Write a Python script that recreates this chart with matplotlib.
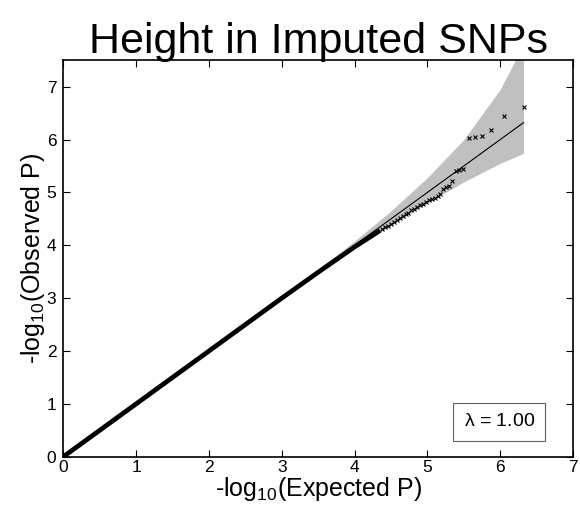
import numpy as np
import matplotlib
matplotlib.use("Agg")
import matplotlib.pyplot as plt

plt.rcParams['font.family'] = ['Liberation Sans', 'DejaVu Sans']
plt.rcParams['mathtext.fontset'] = 'custom'
plt.rcParams['mathtext.rm'] = 'Liberation Sans'
plt.rcParams['mathtext.default'] = 'regular'

# bulk of the QQ points (expected, observed)
bulk_exp = [0.0, 0.5, 1.0, 1.5, 2.0, 2.5, 3.0, 3.5, 4.0, 4.35]
bulk_obs = [0.0, 0.5, 1.0, 1.5, 2.0, 2.5, 3.0, 3.49, 3.97, 4.28]

# tail points plotted as crosses
tail_exp = [4.38, 4.42, 4.46, 4.5, 4.54, 4.58, 4.62, 4.66, 4.7, 4.74, 4.78, 4.82,
            4.86, 4.9, 4.94, 4.98, 5.02, 5.06, 5.1, 5.14, 5.17, 5.22, 5.26, 5.30,
            5.34, 5.39, 5.44, 5.49, 5.57, 5.65, 5.75, 5.87, 6.05, 6.32]
tail_obs = [4.30, 4.34, 4.37, 4.41, 4.44, 4.48, 4.51, 4.55, 4.59, 4.62, 4.66, 4.69,
            4.73, 4.76, 4.79, 4.82, 4.85, 4.87, 4.90, 4.93, 4.97, 5.06, 5.11, 5.13,
            5.22, 5.40, 5.43, 5.45, 6.03, 6.04, 6.07, 6.19, 6.45, 6.62]

# 95% band around the null line
band_x = [0.0, 1.0, 2.0, 3.0, 3.5, 4.0, 4.5, 5.0, 5.5, 6.0, 6.32]
band_hi = [0.0, 1.0, 2.01, 3.03, 3.55, 4.08, 4.65, 5.28, 6.0, 6.95, 7.8]
band_lo = [0.0, 1.0, 1.99, 2.97, 3.46, 3.93, 4.38, 4.80, 5.20, 5.55, 5.74]

lam = 1.00

fig = plt.figure(figsize=(5.8, 5.15), dpi=100)
ax = fig.add_axes([0.109, 0.113, 0.879, 0.770])

ax.fill_between(band_x, band_lo, band_hi, color='#c0c0c0', lw=0)
ax.plot([0, 6.32], [0, 6.32], color='black', lw=0.8)
ax.plot(bulk_exp, bulk_obs, color='black', lw=3.4, solid_capstyle='butt')
ax.plot(tail_exp, tail_obs, ls='none', marker='x', color='black', ms=3.5, mew=0.8)

ax.set_xlim(0, 7)
ax.set_ylim(0, 7.5)
ax.set_xticks(range(8))
ax.set_yticks(range(8))
ax.tick_params(direction='in', top=True, right=True, labelsize=12.5, length=5)
ax.tick_params(axis='x', pad=2)
ax.tick_params(axis='y', pad=5)
for s in ax.spines.values():
    s.set_linewidth(1.2)

ax.set_xlabel('-log$_{10}$(Expected P)', fontsize=18, labelpad=0)
ax.set_ylabel('-log$_{10}$(Observed P)', fontsize=18, labelpad=0)
ax.set_title('Height in Imputed SNPs', fontsize=31, pad=5)

ax.text(0.855, 0.088, '$\\lambda$ = %.2f' % lam, transform=ax.transAxes,
        ha='center', va='center', fontsize=14,
        bbox=dict(boxstyle='square,pad=0.55', fc='white', ec='#606060', lw=0.8))

fig.savefig('out.png', dpi=100)
